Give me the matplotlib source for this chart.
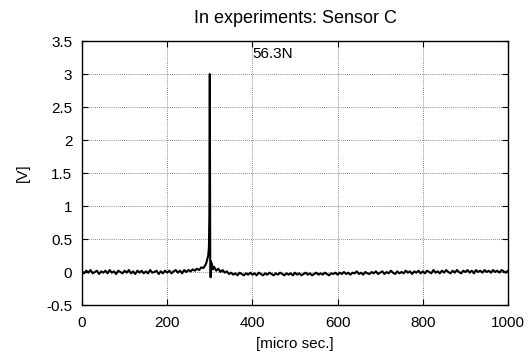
import numpy as np
import matplotlib
matplotlib.use("Agg")
from matplotlib import pyplot as plt

plt.rcParams['font.family'] = ['Liberation Sans', 'DejaVu Sans']

# sample times [micro sec.]: 5 us steps, finer round the peak
t_pre = list(range(0, 290, 5))
t_peak = [288, 290, 292, 294, 296, 297, 298, 299, 300, 300.5, 301, 302, 303, 304, 305, 307, 310]
t_post = list(range(315, 1001, 5))

v_pre = [0.01, -0.02, 0.02, -0.01, 0.03, -0.02, 0.00, 0.02, -0.03, 0.01,
         -0.01, 0.02, -0.02, 0.03, -0.01, 0.01, -0.03, 0.02, 0.00, -0.02,
         0.02, -0.01, 0.03, -0.02, 0.01, -0.03, 0.02, -0.01, 0.02, -0.02,
         0.01, -0.02, 0.03, -0.01, 0.00, 0.02, -0.03, 0.01, -0.02, 0.02,
         -0.01, 0.02, -0.02, 0.01, 0.03, -0.01, 0.02, -0.02, 0.03, 0.00,
         0.03, 0.01, 0.04, 0.02, 0.05, 0.03, 0.07, 0.06]
v_peak = [0.09, 0.11, 0.14, 0.19, 0.24, 0.30, 0.38, 0.9, 3.0, 1.2, 0.2, -0.08, 0.16, 0.05, 0.12, 0.04, 0.08]
v_post = [0.02, 0.05, 0.00, 0.03, -0.01, 0.01, -0.03,
          -0.01, -0.04, -0.02, -0.05, -0.01, -0.03, -0.05, -0.02, -0.04, -0.01,
          -0.04, -0.02, -0.05, -0.01, -0.03, -0.05, -0.02, -0.04, -0.01, -0.03,
          -0.05, -0.02, -0.04, -0.01, -0.03, -0.05, -0.02, -0.04, -0.02, -0.05,
          -0.01, -0.04, -0.02, -0.05, -0.03, -0.01, -0.04, -0.02, -0.05, -0.03,
          -0.01, -0.04, -0.02, -0.04, -0.01, -0.03, -0.05, -0.02, -0.03, -0.01,
          -0.04, -0.01, -0.03, 0.00, -0.03, -0.01, -0.04, -0.01, -0.02, 0.01,
          -0.03, -0.01, -0.04, 0.00, -0.02, -0.03, 0.00, -0.02, 0.01, -0.03,
          -0.01, 0.01, -0.03, 0.00, -0.02, 0.02, -0.01, -0.03, 0.01, -0.02,
          0.00, -0.02, 0.02, -0.01, 0.01, -0.03, 0.01, -0.01, 0.02, -0.02,
          0.01, -0.02, 0.02, 0.00, -0.02, 0.03, -0.01, 0.01, -0.02, 0.02,
          -0.01, 0.03, 0.00, -0.02, 0.02, -0.01, 0.03, 0.00, -0.02, 0.02,
          0.00, 0.03, -0.01, 0.02, -0.02, 0.03, 0.00, 0.02, -0.01, 0.03,
          0.00, 0.02, -0.01, 0.03, 0.00, 0.02, -0.01, 0.03, 0.01, -0.01, 0.02]

t = np.array(t_pre + t_peak + t_post, dtype=float)
v = np.array(v_pre + v_peak + v_post)

xticks = [0, 200, 400, 600, 800, 1000]
yticks = [-0.5, 0, 0.5, 1, 1.5, 2, 2.5, 3, 3.5]
ylabels = ["-0.5", "0", "0.5", "1", "1.5", "2", "2.5", "3", "3.5"]

fig = plt.figure(figsize=(5.28, 3.58), dpi=100)
ax = fig.add_axes([0.1553, 0.148, 0.8068, 0.7374])

ax.plot(t, v, color="black", lw=1.5)
ax.text(400, 3.31, "56.3N", fontsize=11, ha="left", va="center")

ax.set_xlim(0, 1000)
ax.set_ylim(-0.5, 3.5)
ax.set_xticks(xticks)
ax.set_yticks(yticks)
ax.set_yticklabels(ylabels)
ax.grid(True, color="#666666", ls=(0, (1, 1.5)), lw=0.6)
ax.tick_params(direction="in", top=True, right=True, length=4, labelsize=11)
ax.tick_params(axis="x", pad=8)
ax.tick_params(axis="y", pad=7)
for s in ax.spines.values():
    s.set_linewidth(1.0)

ax.set_title("In experiments: Sensor C", fontsize=13, pad=13)
ax.set_xlabel("[micro sec.]", fontsize=11, labelpad=5)
ax.set_ylabel("[V]", fontsize=11, labelpad=12)

fig.savefig("out.png", dpi=100)
